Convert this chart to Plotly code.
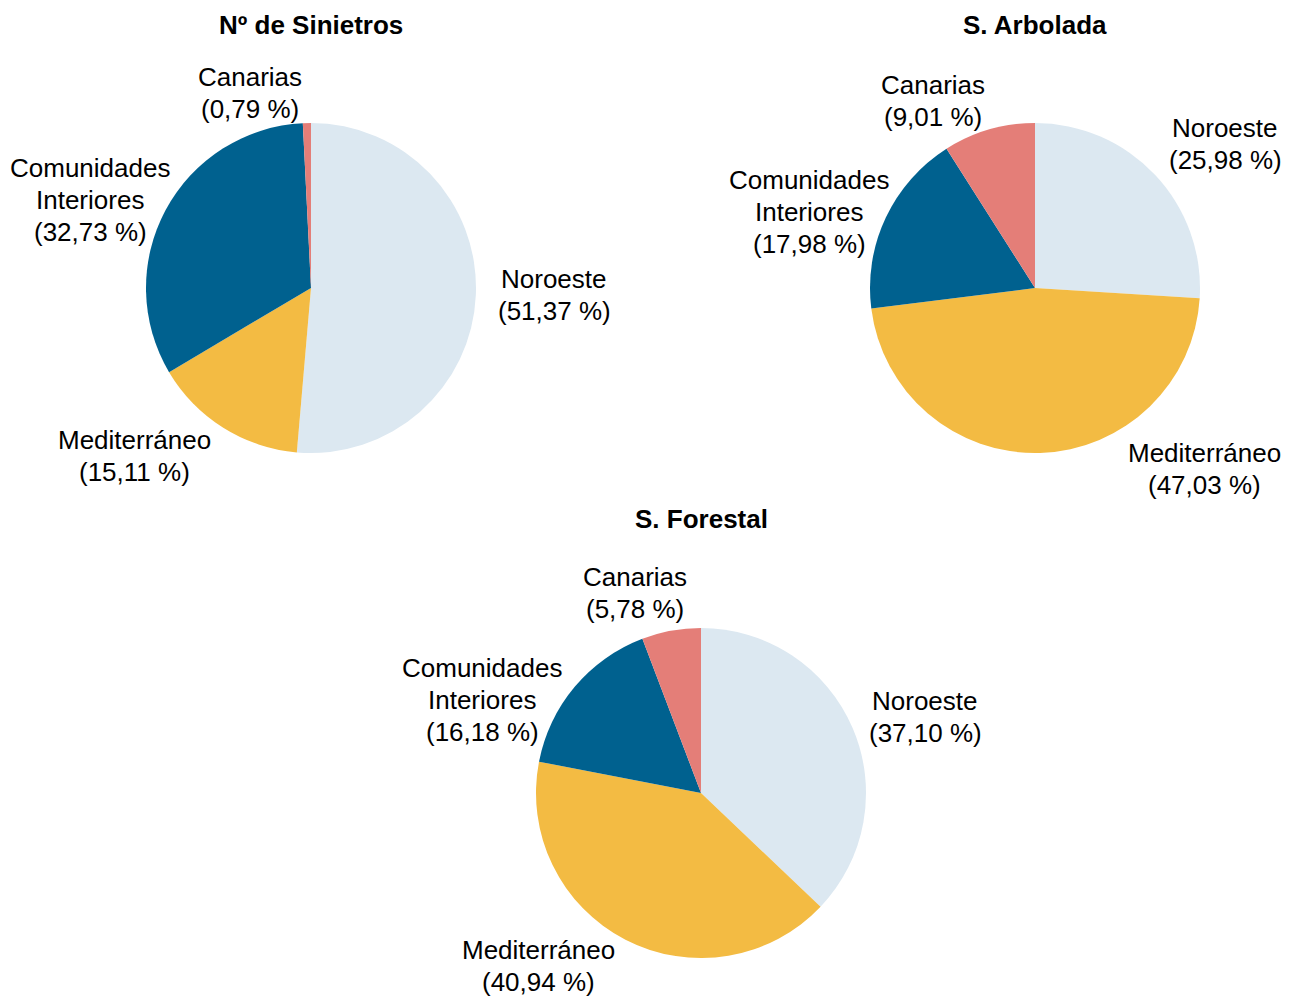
import plotly.graph_objects as go

W, H = 1294, 998

# ---- data ----
regions = ["Noroeste", "Mediterráneo", "Comunidades Interiores", "Canarias"]
region_lines = [["Noroeste"], ["Mediterráneo"], ["Comunidades", "Interiores"], ["Canarias"]]
chart_titles = ["Nº de Sinietros", "S. Arbolada", "S. Forestal"]
siniestros = [51.37, 15.11, 32.73, 0.79]
arbolada = [25.98, 47.03, 17.98, 9.01]
forestal = [37.10, 40.94, 16.18, 5.78]
colors = ["#DCE8F1", "#F3BB43", "#00618F", "#E47E78"]

series = [siniestros, arbolada, forestal]

# ---- layout (pixel geometry) ----
pie_centers = [(311, 288), (1035, 288), (701, 793)]
pie_radius = 165
title_pos = [(311, 25), (1035, 25), (701, 519)]
label_pos = [
    [(554, 295), (134, 456), (90, 200), (250, 93)],
    [(1225, 144), (1204, 469), (809, 212), (933, 101)],
    [(925, 717), (538, 966), (482, 700), (635, 593)],
]
LINE_H = 32

FONT = "Liberation Sans, Arial, Helvetica, sans-serif"

fig = go.Figure()
annotations = []
for i, vals in enumerate(series):
    cx, cy = pie_centers[i]
    fig.add_trace(go.Pie(
        labels=regions,
        values=vals,
        sort=False,
        direction="clockwise",
        rotation=0,
        marker=dict(colors=colors, line=dict(width=0)),
        textinfo="none",
        hoverinfo="label+percent",
        showlegend=False,
        domain=dict(
            x=[(cx - pie_radius) / W, (cx + pie_radius) / W],
            y=[1 - (cy + pie_radius) / H, 1 - (cy - pie_radius) / H],
        ),
    ))
    tx, ty = title_pos[i]
    annotations.append(dict(
        text="<b>" + chart_titles[i] + "</b>", x=tx / W, y=1 - ty / H,
        xref="paper", yref="paper", xanchor="center", yanchor="middle",
        showarrow=False, font=dict(size=26, color="black", family=FONT),
    ))
    for j, v in enumerate(vals):
        lx, ly = label_pos[i][j]
        lines = region_lines[j] + [f"({v:.2f} %)".replace(".", ",")]
        n = len(lines)
        for k, line in enumerate(lines):
            y_px = ly + (k - (n - 1) / 2) * LINE_H
            annotations.append(dict(
                text=line, x=lx / W, y=1 - y_px / H,
                xref="paper", yref="paper", xanchor="center", yanchor="middle",
                align="center", showarrow=False, borderpad=0,
                font=dict(size=26, color="black", family=FONT),
            ))

fig.update_layout(
    width=W, height=H,
    margin=dict(l=0, r=0, t=0, b=0),
    paper_bgcolor="white", plot_bgcolor="white",
    annotations=annotations,
    font=dict(family=FONT),
)

fig.write_html("out.html", config={"displayModeBar": False},
               post_script="document.body.style.margin='0';document.body.style.overflow='hidden';")
